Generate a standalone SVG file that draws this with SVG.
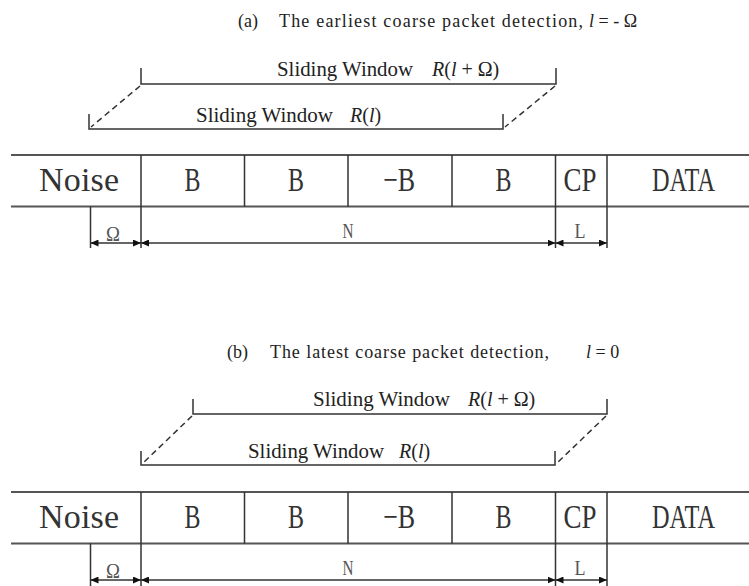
<svg xmlns="http://www.w3.org/2000/svg" width="749" height="586" viewBox="0 0 749 586">
  <style>
    .bg { fill: #ffffff; }
    .rule { stroke: #555; stroke-width: 2; fill: none; }
    .line { stroke: #333; stroke-width: 1.5; fill: none; }
    .dash { stroke: #333; stroke-width: 1.5; fill: none; stroke-dasharray: 6 4; }
    .dim { stroke: #333; stroke-width: 1.5; fill: none; marker-start: url(#tip); marker-end: url(#tip); }
    .title { font-family: "Liberation Serif", "Times New Roman", serif; font-size: 18px; fill: #222; }
    .win { font-family: "Liberation Serif", "Times New Roman", serif; font-size: 20px; fill: #222; }
    .cell { font-family: "Liberation Serif", "Times New Roman", serif; font-size: 34px; fill: #333; text-anchor: middle; }
    .lbl { font-family: "Liberation Serif", "Times New Roman", serif; font-size: 21px; fill: #555; text-anchor: middle; }
    .it { font-style: italic; }
  </style>
  <defs>
    <marker id="tip" viewBox="0 0 8 7" refX="8" refY="3.5" markerWidth="8" markerHeight="7" markerUnits="userSpaceOnUse" orient="auto-start-reverse">
      <path d="M0,0 L8,3.5 L0,7 z" fill="#111"/>
    </marker>
  </defs>
  <rect class="bg" x="0" y="0" width="749" height="586"/>

  <!-- (a) earliest detection -->
  <g id="title-a">
    <text class="title" x="238" y="27">(a)</text>
    <text class="title" x="279" y="27" textLength="304">The earliest coarse packet detection,</text>
    <text class="title" x="589" y="27"><tspan class="it">l</tspan> = - Ω</text>
  </g>

  <g id="window-a-shifted">
    <path class="line" d="M141,68 V84 H556 V68"/>
    <text class="win" x="277" y="76" textLength="136" lengthAdjust="spacingAndGlyphs">Sliding Window</text>
    <text class="win" x="432" y="76"><tspan class="it">R</tspan>(<tspan class="it">l</tspan> + Ω)</text>
  </g>
  <g id="window-a">
    <path class="line" d="M89,114 V129 H503 V114"/>
    <text class="win" x="196" y="122" textLength="137" lengthAdjust="spacingAndGlyphs">Sliding Window</text>
    <text class="win" x="350" y="122"><tspan class="it">R</tspan>(<tspan class="it">l</tspan>)</text>
  </g>

  <g id="frame-a">
    <path class="rule" d="M11,155 H749 M11,206.5 H749"/>
    <path class="line" d="M141,155 V248 M244.5,155 V206.5 M348,155 V206.5 M452,155 V206.5 M555.5,155 V248 M607,155 V248 M90.5,206.5 V248"/>
  </g>
  <g id="cells-a">
    <text class="cell" x="79" y="191" textLength="80">Noise</text>
    <text class="cell" x="192.5" y="191" textLength="16" lengthAdjust="spacingAndGlyphs">B</text>
    <text class="cell" x="296" y="191" textLength="16" lengthAdjust="spacingAndGlyphs">B</text>
    <text class="cell" x="399" y="191" textLength="32" lengthAdjust="spacingAndGlyphs">−B</text>
    <text class="cell" x="503.5" y="191" textLength="16" lengthAdjust="spacingAndGlyphs">B</text>
    <text class="cell" x="580" y="191" textLength="33" lengthAdjust="spacingAndGlyphs">CP</text>
    <text class="cell" x="683.5" y="191" textLength="63" lengthAdjust="spacingAndGlyphs">DATA</text>
  </g>

  <!-- (b) latest detection -->
  <g id="title-b">
    <text class="title" x="227" y="358">(b)</text>
    <text class="title" x="270" y="358" textLength="279">The latest coarse packet detection,</text>
    <text class="title" x="586" y="358"><tspan class="it">l</tspan> = 0</text>
  </g>

  <g id="window-b-shifted">
    <path class="line" d="M193,399 V414 H607 V399"/>
    <text class="win" x="313" y="406" textLength="137" lengthAdjust="spacingAndGlyphs">Sliding Window</text>
    <text class="win" x="468" y="406"><tspan class="it">R</tspan>(<tspan class="it">l</tspan> + Ω)</text>
  </g>
  <g id="window-b">
    <path class="line" d="M141,451 V465 H555 V451"/>
    <text class="win" x="248" y="458" textLength="136" lengthAdjust="spacingAndGlyphs">Sliding Window</text>
    <text class="win" x="399" y="458"><tspan class="it">R</tspan>(<tspan class="it">l</tspan>)</text>
  </g>

  <g id="frame-b">
    <path class="rule" d="M11,492 H749 M11,543.5 H749"/>
    <path class="line" d="M141,492 V586 M244.5,492 V543.5 M348,492 V543.5 M452,492 V543.5 M555.5,492 V586 M607,492 V586 M90.5,543.5 V586"/>
  </g>
  <g id="cells-b">
    <text class="cell" x="79" y="528" textLength="80">Noise</text>
    <text class="cell" x="192.5" y="528" textLength="16" lengthAdjust="spacingAndGlyphs">B</text>
    <text class="cell" x="296" y="528" textLength="16" lengthAdjust="spacingAndGlyphs">B</text>
    <text class="cell" x="399" y="528" textLength="32" lengthAdjust="spacingAndGlyphs">−B</text>
    <text class="cell" x="503.5" y="528" textLength="16" lengthAdjust="spacingAndGlyphs">B</text>
    <text class="cell" x="580" y="528" textLength="33" lengthAdjust="spacingAndGlyphs">CP</text>
    <text class="cell" x="683.5" y="528" textLength="63" lengthAdjust="spacingAndGlyphs">DATA</text>
  </g>

  <!-- connectors: window shifts and span dimensions -->
  <g id="connectors">
    <line class="dash" x1="140" y1="86" x2="91" y2="127"/>
    <line class="dash" x1="555" y1="86" x2="505" y2="127"/>
    <line class="dash" x1="192" y1="416" x2="143" y2="463"/>
    <line class="dash" x1="606" y1="416" x2="557" y2="463"/>

    <line class="dim" x1="90.5" y1="243" x2="141" y2="243"/>
    <line class="dim" x1="141" y1="243" x2="555.5" y2="243"/>
    <line class="dim" x1="555.5" y1="243" x2="607" y2="243"/>
    <line class="dim" x1="90.5" y1="580" x2="141" y2="580"/>
    <line class="dim" x1="141" y1="580" x2="555.5" y2="580"/>
    <line class="dim" x1="555.5" y1="580" x2="607" y2="580"/>
  </g>

  <g id="span-labels">
    <text class="lbl" x="113" y="241" font-size="17" textLength="14" lengthAdjust="spacingAndGlyphs">Ω</text>
    <text class="lbl" x="348" y="238" textLength="11" lengthAdjust="spacingAndGlyphs">N</text>
    <text class="lbl" x="580" y="238" textLength="11" lengthAdjust="spacingAndGlyphs">L</text>
    <text class="lbl" x="113" y="578" font-size="17" textLength="14" lengthAdjust="spacingAndGlyphs">Ω</text>
    <text class="lbl" x="348" y="575" textLength="11" lengthAdjust="spacingAndGlyphs">N</text>
    <text class="lbl" x="580" y="575" textLength="11" lengthAdjust="spacingAndGlyphs">L</text>
  </g>
</svg>
